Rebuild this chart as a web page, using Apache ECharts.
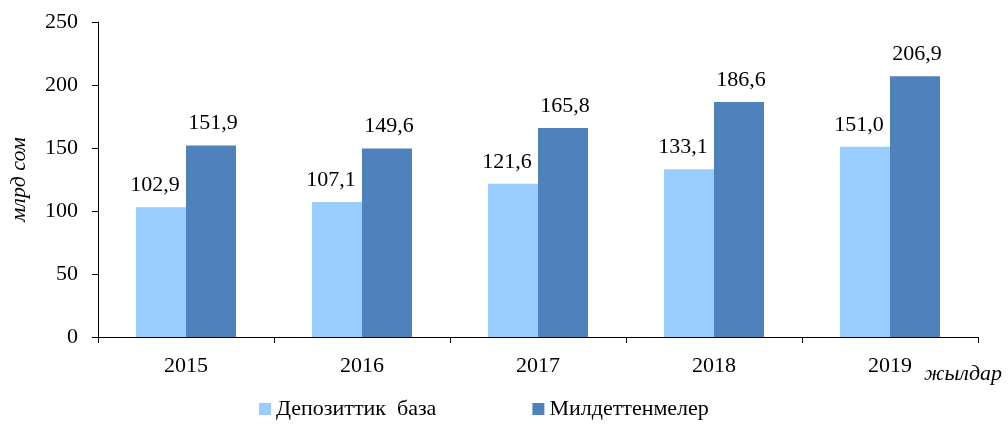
<!DOCTYPE html>
<html>
<head>
<meta charset="utf-8">
<script src="https://cdn.jsdelivr.net/npm/echarts@6/dist/echarts.min.js"></script>
<style>
  html, body { margin: 0; padding: 0; background: #fff; }
  #chart { width: 1008px; height: 425px; }
</style>
</head>
<body>
<div id="chart"></div>
<script>
// жылдар
const years = ["2015", "2016", "2017", "2018", "2019"];
const depositBase = [102.9, 107.1, 121.6, 133.1, 151.0];
const liabilities = [151.9, 149.6, 165.8, 186.6, 206.9];
const seriesNames = ["Депозиттик  база", "Милдеттенмелер"];

const font = "Liberation Serif";
const fmt = (p) => p.value.toFixed(1).replace(".", ",");

const myChart = echarts.init(document.getElementById("chart"));
const option = {
  color: ["#99CCFF", "#4F81BD"],
  textStyle: { fontFamily: font, color: "#000" },
  legend: {
    bottom: 0,
    left: 254,
    itemGap: 96,
    itemWidth: 12,
    itemHeight: 12,
    icon: "rect",
    textStyle: { fontFamily: font, fontSize: 22, color: "#000" },
  },
  grid: { left: 98, right: 30, top: 22, bottom: 88 },
  xAxis: {
    type: "category",
    data: years,
    name: "жылдар",
    nameLocation: "end",
    nameGap: 0,
    nameTextStyle: {
      fontFamily: font,
      fontSize: 22,
      fontStyle: "italic",
      color: "#000",
      align: "left",
      verticalAlign: "top",
      padding: [26, 0, 0, -54],
    },
    axisLine: { lineStyle: { color: "#000", width: 1 } },
    axisTick: { show: true, alignWithLabel: false, length: 6, lineStyle: { color: "#000" } },
    axisLabel: { fontFamily: font, fontSize: 22, color: "#000", margin: 18 },
  },
  yAxis: {
    type: "value",
    min: 0,
    max: 250,
    interval: 50,
    name: "млрд сом",
    nameLocation: "middle",
    nameGap: 68,
    nameTextStyle: { fontFamily: font, fontSize: 22, fontStyle: "italic", color: "#000" },
    axisLine: { show: true, lineStyle: { color: "#000", width: 1 } },
    axisTick: { show: true, length: 6, lineStyle: { color: "#000" } },
    axisLabel: { fontFamily: font, fontSize: 22, color: "#000", margin: 20 },
    splitLine: { show: false },
  },
  series: [
    {
      type: "bar",
      name: seriesNames[0],
      data: depositBase,
      barWidth: 50,
      barGap: "0%",
      label: { show: true, position: "top", distance: 11, fontFamily: font, fontSize: 22, color: "#000", offset: [-6, 0], formatter: fmt },
    },
    {
      type: "bar",
      name: seriesNames[1],
      data: liabilities,
      barWidth: 50,
      label: { show: true, position: "top", distance: 11, fontFamily: font, fontSize: 22, color: "#000", offset: [2, 0], formatter: fmt },
    },
  ],
};
myChart.setOption(option);
</script>
</body>
</html>
